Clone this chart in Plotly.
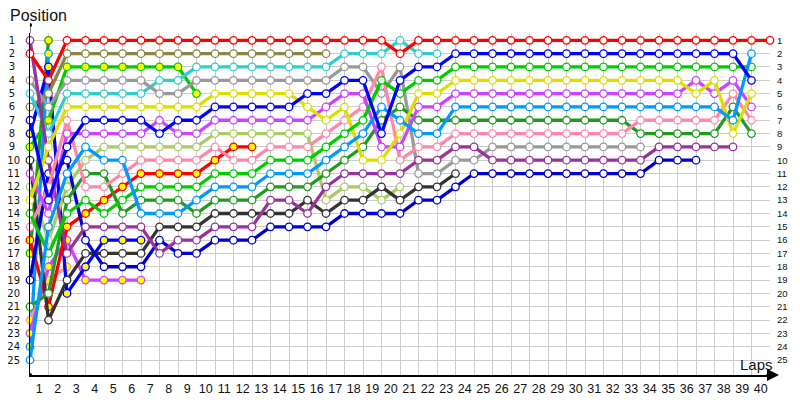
import plotly.graph_objects as go

# ---------------- data (column 0 = grid, column n = after lap n) ----------------
lap_labels = [str(i) for i in range(1, 41)]
position_labels = [str(i) for i in range(1, 26)]

red = [2, 4, 1, 1, 1, 1, 1, 1, 1, 1,
       1, 1, 1, 1, 1, 1, 1, 1, 1, 1,
       2, 1, 1, 1, 1, 1, 1, 1, 1, 1,
       1, 1, 1, 1, 1, 1, 1, 1, 1, 1,
       1]
olive = [6, 5, 2, 2, 2, 2, 2, 2, 2, 2,
         2, 2, 2, 2, 2, 2, 2]
green_y = [9, 7, 3, 3, 3, 3, 3, 3, 3, 5]
gray = [4, 6, 4, 4, 4, 4, 4, 5, 5, 4,
        4, 4, 4, 4, 4, 4, 4, 3, 3, 5,
        3, 11, 11, 10, 10, 9, 9, 9, 9, 9,
        9, 9, 9, 9]
cyan = [5, 8, 5, 5, 5, 5, 5, 4, 4, 3,
        3, 3, 3, 3, 3, 3, 3, 2, 2, 2,
        1, 2, 2]
yellow = [13, 9, 6, 6, 6, 6, 6, 6, 6, 6,
          5, 5, 5, 5, 5, 6, 7, 6, 10, 10,
          8, 5, 5, 4, 4, 4, 4, 4, 4, 4,
          4, 4, 4, 4, 4, 4, 5, 4, 8, 5]
blue = [7, 13, 9, 7, 7, 7, 7, 8, 7, 7,
        6, 6, 6, 6, 6, 5, 5, 4, 4, 8,
        4, 3, 3, 2, 2, 2, 2, 2, 2, 2,
        2, 2, 2, 2, 2, 2, 2, 2, 2, 4]
violet = [11, 14, 8, 8, 8, 8, 8, 7, 8, 8,
          7, 7, 7, 7, 7, 7, 6, 5, 5, 9,
          9, 6, 6, 5, 5, 5, 5, 5, 5, 5,
          5, 5, 5, 5, 5, 5, 4, 5, 4, 6]
light_green = [12, 16, 12, 10, 9, 9, 9, 9, 9, 9,
               8, 8, 8, 8, 8, 8, 13, 12, 12, 13,
               12]
pink = [15, 12, 7, 12, 12, 11, 10, 10, 10, 10,
        9, 10, 10, 9, 9, 9, 8, 7, 6, 3,
        10, 9, 9, 8, 8, 8, 8, 8, 8, 8,
        8, 8, 8, 7, 7, 7, 7, 7, 5, 7]
red_y = [16, 21, 15, 14, 13, 12, 11, 11, 11, 11,
         10, 9, 9]
bright_green = [14, 17, 14, 13, 14, 13, 12, 12, 12, 12,
                11, 11, 11, 10, 10, 10, 9, 8, 7, 4,
                5, 4, 4, 3, 3, 3, 3, 3, 3, 3,
                3, 3, 3, 3, 3, 3, 3, 3, 3, 3]
light_blue = [25, 15, 11, 9, 10, 10, 14, 14, 14, 13,
              12, 12, 12, 11, 11, 11, 10, 9, 8, 6,
              7, 8, 8, 6, 6, 6, 6, 6, 6, 6,
              6, 6, 6, 6, 6, 6, 6, 6, 7, 2]
dark_green = [21, 20, 13, 11, 11, 14, 13, 13, 13, 14,
              13, 13, 13, 12, 12, 12, 11, 10, 9, 7,
              6, 7, 7, 7, 7, 7, 7, 7, 7, 7,
              7, 7, 7, 8, 8, 8, 8, 8, 6, 8]
black = [10, 22, 19, 17, 17, 17, 17, 15, 15, 15,
         14, 14, 14, 14, 14, 13, 14, 13, 13, 12,
         13, 12, 12, 11]
purple = [1, 10, 17, 15, 15, 15, 15, 17, 16, 16,
          15, 15, 15, 13, 13, 14, 12, 11, 11, 11,
          11, 10, 10, 9, 9, 10, 10, 10, 10, 10,
          10, 10, 10, 10, 9, 9, 9, 9, 9]
dark_blue = [19, 11, 10, 16, 18, 18, 18, 16, 17, 17,
             16, 16, 16, 15, 15, 15, 15, 14, 14, 14,
             14, 13, 13, 12, 11, 11, 11, 11, 11, 11,
             11, 11, 11, 11, 10, 10, 10]
blue_y = [8, 3, 20, 18, 16, 16, 16]
violet_y = [23, 18, 16, 19, 19, 19, 19]
salmon_y = [22, 19, 18]
light_blue_y = [24, 2]
dark_green_y = [17, 1]

# ---------------- styles ----------------
series = [
    (dark_green_y, "#229922", "#ffff00"),
    (light_blue_y, "#0099ff", "#ffff00"),
    (salmon_y, "#ff99aa", "#ffff00"),
    (violet_y, "#cc44ff", "#ffff00"),
    (blue_y, "#0000ff", "#ffff00"),
    (green_y, "#00cc00", "#ffff00"),
    (red_y, "#ff0000", "#ffff00"),
    (olive, "#888844", "white"),
    (light_green, "#aacc66", "white"),
    (cyan, "#33cccc", "white"),
    (black, "#333333", "white"),
    (gray, "#999999", "white"),
    (dark_blue, "#0000cc", "white"),
    (purple, "#993399", "white"),
    (dark_green, "#229922", "white"),
    (pink, "#ff88aa", "white"),
    (violet, "#cc44ff", "white"),
    (yellow, "#dddd00", "white"),
    (bright_green, "#00cc00", "white"),
    (light_blue, "#0099ff", "white"),
    (blue, "#0000ff", "white"),
    (red, "#ff0000", "white"),
]

fig = go.Figure()
for ys, col, fill in series:
    fig.add_trace(go.Scatter(
        x=list(range(len(ys))), y=ys, mode="lines+markers",
        line=dict(color=col, width=3.3),
        marker=dict(symbol="circle", size=7.5, color=fill,
                    line=dict(color=col, width=1.3)),
        cliponaxis=False, hoverinfo="skip", showlegend=False))

# invisible trace to carry the right-hand position axis
fig.add_trace(go.Scatter(x=[0], y=[1], yaxis="y2", mode="markers",
                         marker=dict(opacity=0), hoverinfo="skip",
                         showlegend=False))

n_cols = len(red)
yr = [26.125, 0.45]
plot_h = 342

# the page body has an 8px margin, so the figure is 792x392 and shifted accordingly
fig.update_layout(
    width=792, height=392,
    margin=dict(l=22, r=30, t=25, b=25, autoexpand=False),
    paper_bgcolor="white", plot_bgcolor="white",
    font=dict(family="Liberation Sans, Arial, sans-serif", color="#111111"),
    xaxis=dict(
        range=[0, n_cols - 1], automargin=False,
        tickmode="array",
        tickvals=[i + 0.5 for i in range(len(lap_labels))],
        ticktext=lap_labels,
        tickfont=dict(size=12.5, family="Liberation Sans, Arial, sans-serif", color="#111"),
        ticks="outside", ticklen=1, tickcolor="rgba(0,0,0,0)",
        showgrid=False, zeroline=False,
        showline=True, linecolor="#000000", linewidth=2,
        minor=dict(tickmode="array", tickvals=list(range(n_cols)),
                   showgrid=True, gridcolor="#cccccc", gridwidth=1, ticks=""),
    ),
    yaxis=dict(
        range=yr, automargin=False,
        tickmode="array",
        tickvals=list(range(1, 26)),
        ticktext=[t + ("\u2002" if len(t) == 1 else "") for t in position_labels],
        tickfont=dict(size=10, family="DejaVu Sans, Verdana, sans-serif", color="#111"),
        ticks="outside", ticklen=7, tickcolor="rgba(0,0,0,0)",
        showgrid=True, gridcolor="#cccccc", gridwidth=1, zeroline=False,
        showline=True, linecolor="#000000", linewidth=1,
    ),
    yaxis2=dict(
        range=yr, overlaying="y", side="right", anchor="x", automargin=False,
        tickmode="array",
        tickvals=list(range(1, 26)),
        ticktext=position_labels,
        tickfont=dict(size=9.5, family="Liberation Sans, Arial, sans-serif", color="#111"),
        ticks="outside", ticklen=4, tickcolor="rgba(0,0,0,0)",
        showgrid=False, zeroline=False, showline=False,
    ),
    annotations=[
        dict(text="Position", xref="paper", yref="paper",
             x=-22 / 740, y=1 + 18 / plot_h, xanchor="left", yanchor="middle",
             showarrow=False, font=dict(size=16, color="#111")),
        dict(text="Laps", xref="paper", yref="paper",
             x=1 + 5 / 740, y=11 / plot_h, xanchor="right", yanchor="middle",
             showarrow=False, font=dict(size=15, color="#111")),
        dict(text="", xref="paper", yref="paper", x=1 + 9 / 740, y=0,
             ax=-14, ay=0, showarrow=True, arrowhead=2, arrowsize=1.2,
             arrowwidth=2, arrowcolor="#000000"),
    ],
    shapes=[
        dict(type="line", xref="x", yref="paper", x0=0, x1=0, y0=1, y1=1 + 8 / plot_h,
             line=dict(color="#000000", width=1)),
        dict(type="circle", xref="x", yref="paper", xsizemode="pixel", ysizemode="pixel",
             xanchor=0, yanchor=1 + 8 / plot_h, x0=-2, x1=2, y0=-2, y1=2,
             fillcolor="#000000", line=dict(color="#000000", width=0)),
        dict(type="circle", xref="x", yref="paper", xsizemode="pixel", ysizemode="pixel",
             xanchor=0, yanchor=0, x0=-2, x1=2, y0=-2, y1=2,
             fillcolor="#000000", line=dict(color="#000000", width=0)),
    ],
)

fig.write_html("out.html")
